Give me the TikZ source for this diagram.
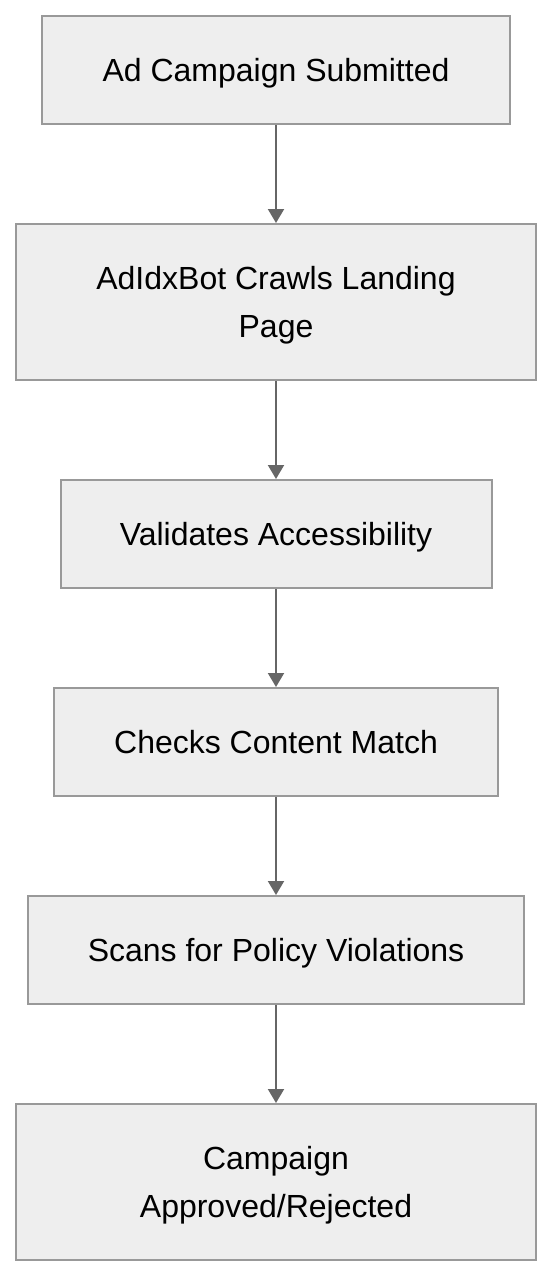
\documentclass[tikz,border=0pt]{standalone}
\usepackage{fontspec}
\setmainfont{Liberation Sans}
\usetikzlibrary{arrows.meta,positioning}
\definecolor{grau}{rgb}{0.9333,0.9333,0.9333}
\definecolor{grauRand}{rgb}{0.6,0.6,0.6}
\definecolor{pfeil}{rgb}{0.4,0.4,0.4}
\tikzstyle{stepbox} = [draw=grauRand,fill=grau,line width=1pt,rectangle,minimum height=54pt,inner sep=0pt,align=center,text height=12pt,text depth=1pt,font=\fontsize{16}{24}\selectfont]
\tikzstyle{stepbox'} = [stepbox,minimum height=78pt,text height=36pt]
\tikzstyle{edge} = [-{Triangle[width=8pt,length=7pt]},line width=1pt,draw=pfeil]

\begin{document}
\begin{tikzpicture}[x=0.5pt,y=-0.5pt]
\useasboundingbox (0,0) rectangle (552,1276);

\node[stepbox,minimum width=234pt] (AD) at (276,70) {Ad Campaign Submitted};
\node[stepbox',minimum width=260pt] (CR) at (276,302) {AdIdxBot Crawls Landing\\Page};
\node[stepbox,minimum width=215.5pt] (VA) at (276,534) {Validates Accessibility};
\node[stepbox,minimum width=222pt] (CM) at (276,742) {Checks Content Match};
\node[stepbox,minimum width=248pt] (PV) at (276,950) {Scans for Policy Violations};
\node[stepbox',minimum width=260pt] (AR) at (276,1182) {Campaign\\Approved/Rejected};

\draw[edge] (AD) -- (CR);
\draw[edge] (CR) -- (VA);
\draw[edge] (VA) -- (CM);
\draw[edge] (CM) -- (PV);
\draw[edge] (PV) -- (AR);
\end{tikzpicture}
\end{document}
